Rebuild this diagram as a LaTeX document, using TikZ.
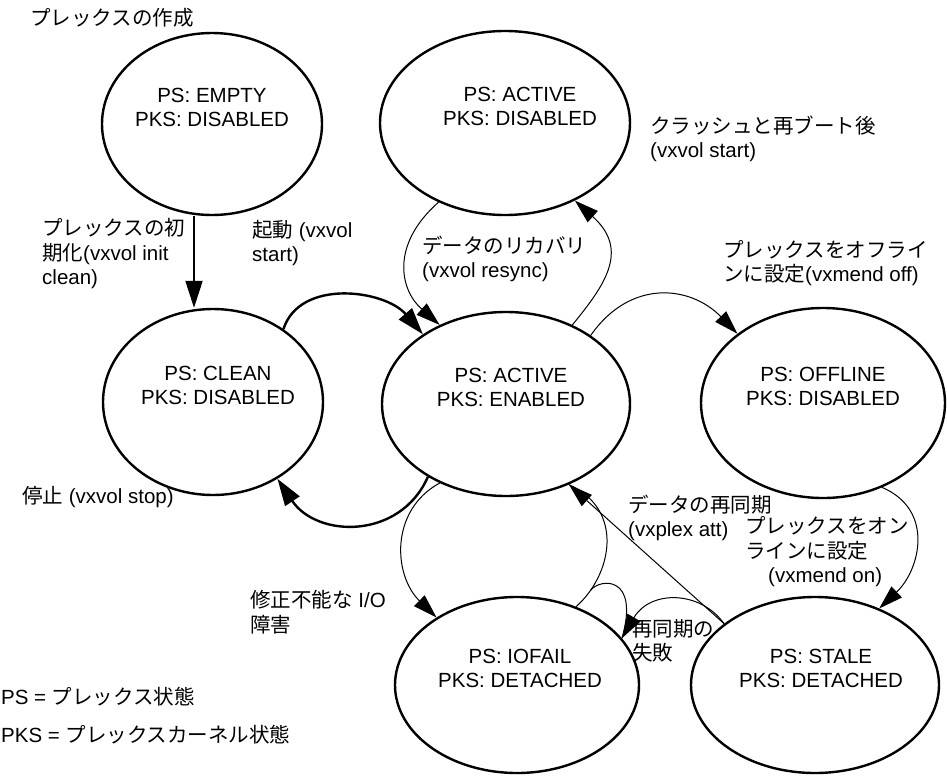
\documentclass[tikz,border=0pt]{standalone}
\usepackage{fontspec}
\setmainfont{Liberation Sans}
\newfontfamily\jp{Noto Sans CJK JP}
\usetikzlibrary{shapes.geometric,arrows.meta}
\newcommand\J[1]{{\jp #1}}
\newcommand\stt[3][0pt]{\raisebox{9pt}[0pt][0pt]{\makebox[0pt]{\hspace*{#1}\begin{tabular}{@{}c@{}}#2\\#3\end{tabular}}}}
\begin{document}
\begin{tikzpicture}[x=1pt,y=-1pt,
  every node/.style={font=\fontsize{20.5}{24.5}\selectfont},
  state/.style={ellipse,draw,line width=2.4pt,inner sep=0pt},
  lab/.style={anchor=west,inner sep=0pt,align=left},
  thin/.style={line width=1pt},
  thk/.style={line width=2.4pt},
  tip/.style={-{Triangle[length=24pt,width=15pt]}},
  bigtip/.style={-{Triangle[length=27pt,width=17pt]}}]
\useasboundingbox (0,0) rectangle (947,779);
% states
\node[state,minimum width=220pt,minimum height=182pt] (empty) at (212,124) {\stt{PS: EMPTY}{PKS: DISABLED}};
\node[state,minimum width=250pt,minimum height=184pt] (actd) at (505,123) {\stt[30pt]{PS: ACTIVE}{PKS: DISABLED}};
\node[state,minimum width=220pt,minimum height=186pt] (clean) at (213,402) {\stt[10pt]{PS: CLEAN}{PKS: DISABLED}};
\node[state,minimum width=248pt,minimum height=184pt] (active) at (506,404) {\stt[10pt]{PS: ACTIVE}{PKS: ENABLED}};
\node[state,minimum width=244pt,minimum height=190pt] (offline) at (823,403) {\stt{PS: OFFLINE}{PKS: DISABLED}};
\node[state,minimum width=244pt,minimum height=176pt] (iofail) at (517,685) {\stt[6pt]{PS: IOFAIL}{PKS: DETACHED}};
\node[state,minimum width=248pt,minimum height=176pt] (stale) at (815,685) {\stt[12pt]{PS: STALE}{PKS: DETACHED}};
% connectors
\draw[line width=2pt,bigtip] ([xshift=-18pt]empty.south) -- ([xshift=-19pt]clean.north);
\draw[thk,bigtip] (clean.46) .. controls (300,278) and (385,290) .. (active.140);
\draw[thk,bigtip] (active.223) .. controls (400,540) and (317,538) .. (clean.310);
\draw[thin,tip] (actd.230) .. controls (390,245) and (400,290) .. (active.130);
\draw[thin,tip] (active.50) .. controls (605,285) and (630,250) .. (actd.-48);
\draw[thin,tip] (active.39) .. controls (630,279) and (690,285) .. (offline.141);
\draw[thin,tip] (offline.-55) .. controls (935,510) and (920,570) .. (stale.50);
\draw[thin,tip] (active.230) .. controls (390,510) and (393,575) .. (iofail.140);
\draw[thin] (iofail.53) .. controls (612,575) and (625,510) .. (active.-52) coordinate[pos=0.15] (br);
\draw[thin] (br) .. controls (600,578) and (640,575) .. (iofail.24);
\draw[thin,tip] (stale.146) -- (active.-52);
\draw[thin,tip] (stale.146) .. controls (700,590) and (650,590) .. (iofail.24);
% labels
\node[lab] (lcreate) at (30,18) {\J{プレックスの作成}};
\node[lab] (linit) at (42,254) {\J{プレックスの初}\\\J{期化}(vxvol init\\clean)};
\node[lab] (lstart) at (252,243) {\J{起動} (vxvol\\start)};
\node[lab] (lresync) at (422,259) {\J{データのリカバリ}\\(vxvol resync)};
\node[lab] (lcrash) at (650,139) {\J{クラッシュと再ブート後}\\(vxvol start)};
\node[lab] (loff) at (723,263) {\J{プレックスをオフライ}\\\J{ンに設定}(vxmend off)};
\node[lab] (lstop) at (22,497) {\J{停止} (vxvol stop)};
\node[lab] (lio) at (250,612) {\J{修正不能な} I/O\\\J{障害}};
\node[lab] (latt) at (628,518) {\J{データの再同期}\\(vxplex att)};
\node[lab] (lon) at (745,552) {\J{プレックスをオン}\\\J{ラインに設定}\\\hspace*{23pt}(vxmend on)};
\node[lab] (lfail) at (632,641) {\J{再同期の}\\\J{失敗}};
\node[lab] (lps) at (1,697) {PS = \J{プレックス状態}};
\node[lab] (lpks) at (1,735) {PKS = \J{プレックスカーネル状態}};
\end{tikzpicture}
\end{document}
